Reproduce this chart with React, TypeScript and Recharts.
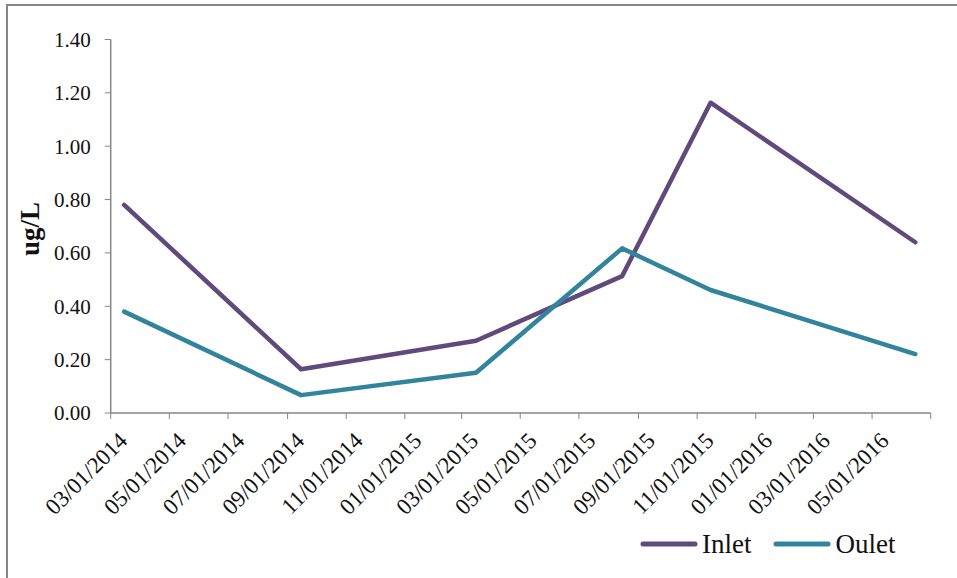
import { LineChart, Line, XAxis, YAxis, Legend, Label } from 'recharts'

// sampling dates and concentrations (ug/L)
const sampleDates = ['2014-03-15', '2014-09-15', '2015-03-16', '2015-08-15', '2015-11-15', '2016-06-15']
const inletValues = [0.78, 0.164, 0.271, 0.513, 1.163, 0.64]
const outletValues = [0.38, 0.067, 0.151, 0.617, 0.461, 0.221]

// x axis runs in two-month steps; the final tick closes the axis and carries no label
const tickDates = [
  '2014-03-01', '2014-05-01', '2014-07-01', '2014-09-01', '2014-11-01',
  '2015-01-01', '2015-03-01', '2015-05-01', '2015-07-01', '2015-09-01', '2015-11-01',
  '2016-01-01', '2016-03-01', '2016-05-01', '2016-07-01',
]
const yTicks = [0, 0.2, 0.4, 0.6, 0.8, 1.0, 1.2, 1.4]

const toMs = (s: string) => Date.parse(s + 'T00:00:00Z')
const xTicks = tickDates.map(toMs)
const lastTick = xTicks[xTicks.length - 1]

const data = sampleDates.map((d, i) => ({ t: toMs(d), inlet: inletValues[i], outlet: outletValues[i] }))

const FONT = '"Liberation Serif", "Times New Roman", serif'
const AXIS = '#868686'
const INLET = '#604A7B'
const OUTLET = '#31849B'

const fmtDate = (ms: number) => {
  const d = new Date(ms)
  const mm = String(d.getUTCMonth() + 1).padStart(2, '0')
  const dd = String(d.getUTCDate()).padStart(2, '0')
  return `${mm}/${dd}/${d.getUTCFullYear()}`
}

const DateTick = (props: any) => {
  const { x, y, payload } = props
  if (payload.value === lastTick) return null
  const px = x + 18
  const py = y + 23
  return (
    <text x={px} y={py} transform={`rotate(-45, ${px}, ${py})`} textAnchor="end"
      fill="#111" fontSize={23} fontFamily={FONT}>
      {fmtDate(payload.value)}
    </text>
  )
}

const LegendBox = () => (
  <div style={{ display: 'flex', alignItems: 'center', fontFamily: FONT, fontSize: 27, color: '#111' }}>
    {[{ name: 'Inlet', color: INLET }, { name: 'Oulet', color: OUTLET }].map((s, i) => (
      <div key={s.name} style={{ display: 'flex', alignItems: 'center', marginRight: i === 0 ? 22 : 0 }}>
        <svg width={58} height={10}>
          <line x1={3} y1={5} x2={55} y2={5} stroke={s.color} strokeWidth={5} strokeLinecap="round" />
        </svg>
        <span style={{ marginLeft: 4, lineHeight: '30px' }}>{s.name}</span>
      </div>
    ))}
  </div>
)

export default function App() {
  return (
    <div style={{ position: 'absolute', left: 0, top: 0, width: 957, height: 578, background: '#fff', overflow: 'hidden' }}>
      <div style={{
        position: 'absolute', left: 6, top: 4, width: 1000, height: 700,
        borderLeft: `2px solid ${AXIS}`, borderTop: `2px solid ${AXIS}`,
      }} />
      <LineChart width={957} height={578} data={data}
        margin={{ top: 39.5, right: 26.3, left: 50.7, bottom: 40 }}>
        <XAxis
          dataKey="t"
          type="number"
          domain={[xTicks[0], lastTick]}
          ticks={xTicks}
          interval={0}
          height={125}
          tick={<DateTick />}
          tickSize={6}
          tickMargin={0}
          stroke={AXIS}
          tickLine={{ stroke: AXIS }}
          axisLine={{ stroke: AXIS, strokeWidth: 1.5 }}
        />
        <YAxis
          type="number"
          domain={[0, 1.4]}
          ticks={yTicks}
          interval={0}
          width={60}
          tickSize={6}
          tickMargin={14}
          tickFormatter={(v: number) => v.toFixed(2)}
          tick={{ fill: '#111', fontSize: 21, fontFamily: FONT }}
          stroke={AXIS}
          axisLine={{ stroke: AXIS, strokeWidth: 1.5 }}
        >
          <Label
            content={() => (
              <text x={39} y={229} transform="rotate(-90, 39, 229)" textAnchor="middle"
                fontFamily={FONT} fontSize={27} fontWeight="bold" fill="#111">
                ug/L
              </text>
            )}
          />
        </YAxis>
        <Legend
          layout="horizontal"
          verticalAlign="middle"
          align="center"
          content={<LegendBox />}
          wrapperStyle={{ left: 640, top: 529, width: 300 }}
        />
        <Line dataKey="inlet" name="Inlet" stroke={INLET} strokeWidth={4.5} dot={false}
          strokeLinejoin="round" strokeLinecap="round" isAnimationActive={false} />
        <Line dataKey="outlet" name="Oulet" stroke={OUTLET} strokeWidth={4.5} dot={false}
          strokeLinejoin="round" strokeLinecap="round" isAnimationActive={false} />
      </LineChart>
    </div>
  )
}
